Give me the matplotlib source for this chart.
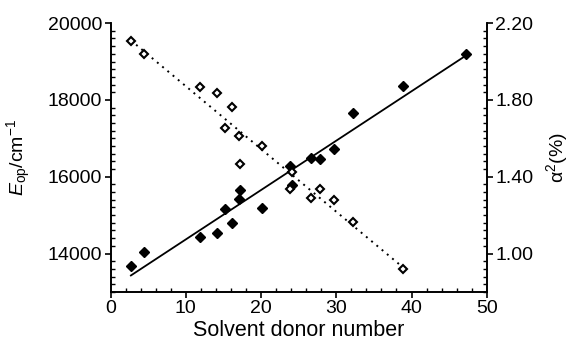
import matplotlib.pyplot as plt
import numpy as np
from matplotlib.ticker import MultipleLocator, FixedLocator

plt.rcParams['font.family'] = ['Liberation Sans', 'DejaVu Sans']
plt.rcParams['mathtext.fontset'] = 'custom'
plt.rcParams['mathtext.rm'] = 'Liberation Sans'
plt.rcParams['mathtext.it'] = 'Liberation Sans:italic'

# solvent donor numbers
donor = [2.7, 4.4, 11.9, 14.1, 15.2, 16.2, 17.1, 17.2, 20.1, 23.8, 24.1,
         26.6, 27.8, 29.7, 32.2, 38.8, 47.2]
# optical transition energy (cm-1), filled diamonds
e_op = [13680, 14030, 14430, 14530, 15160, 14800, 15410, 15650, 15190,
        16290, 15790, 16500, 16450, 16730, 17660, 18350, 19190]
# alpha^2 (%), open diamonds (no value for the last solvent)
alpha2 = [2.108, 2.039, 1.868, 1.836, 1.654, 1.761, 1.612, 1.465, 1.561,
          1.334, 1.426, 1.288, 1.334, 1.279, 1.163, 0.920]
alpha_ticks = [1.00, 1.40, 1.80, 2.20]

donor_a = donor[:len(alpha2)]

fig = plt.figure(figsize=(5.7, 3.5), dpi=100)
ax = fig.add_axes([0.194, 0.166, 0.66, 0.768])
ax2 = ax.twinx()

# fitted lines
k1, b1 = np.polyfit(donor, e_op, 1)
xs1 = np.array([min(donor), max(donor)])
ax.plot(xs1, k1 * xs1 + b1, color='black', lw=1.3)
ax.plot(donor, e_op, 'D', color='black', ms=5)

k2, b2 = np.polyfit(donor_a, alpha2, 1)
xs2 = np.array([min(donor_a), max(donor_a)])
ax2.plot(xs2, k2 * xs2 + b2, color='black', lw=1.4, ls=(0, (1, 2.5)))
ax2.plot(donor_a, alpha2, 'D', mfc='white', mec='black', mew=1.5, ms=4.5)

ax.set_xlim(0, 50)
ax.set_ylim(13000, 20000)
ax2.set_ylim(0.8, 2.2)

ax.xaxis.set_major_locator(MultipleLocator(10))
ax.xaxis.set_minor_locator(MultipleLocator(2))
ax.yaxis.set_major_locator(MultipleLocator(2000))
ax.yaxis.set_minor_locator(MultipleLocator(200))
ax2.yaxis.set_major_locator(FixedLocator(alpha_ticks))
ax2.yaxis.set_minor_locator(MultipleLocator(0.04))
ax2.yaxis.set_major_formatter(plt.FormatStrFormatter('%.2f'))

for a in (ax, ax2):
    a.spines['top'].set_visible(False)
    for s in a.spines.values():
        s.set_linewidth(1.2)
    a.tick_params(which='major', direction='out', length=4, width=1.2, labelsize=14, pad=2)
    a.tick_params(which='minor', direction='in', length=3, width=1)

ax.set_xlabel('Solvent donor number', fontsize=15.5, labelpad=2)
ax.set_ylabel('$E_{\\mathrm{op}}$/cm$^{-1}$', fontsize=14)
ax.yaxis.set_label_coords(-0.205, 0.5)
ax2.set_ylabel('α$^{2}$(%)', fontsize=14)
ax2.yaxis.set_label_coords(1.152, 0.5)

fig.savefig('out.png', dpi=100)
